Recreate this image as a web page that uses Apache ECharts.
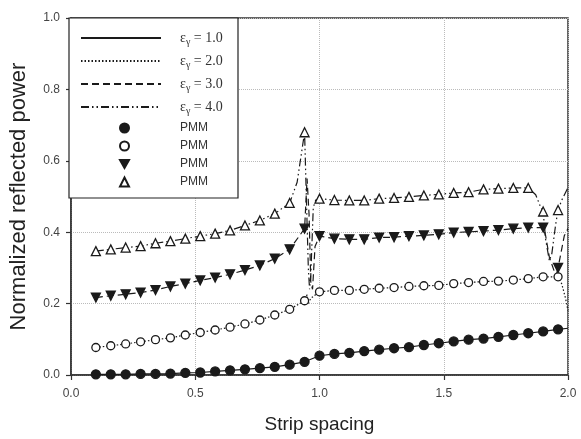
<!DOCTYPE html>
<html>
<head>
<meta charset="utf-8">
<script src="https://cdn.jsdelivr.net/npm/echarts@6/dist/echarts.min.js"></script>
<style>
  html, body { margin: 0; padding: 0; background: #fff; }
  #chart { width: 581px; height: 439px; }
</style>
</head>
<body>
<div id="chart"></div>
<script>
// strip spacing where PMM points were computed
const xPMM = [0.10, 0.16, 0.22, 0.28, 0.34, 0.40, 0.46, 0.52, 0.58, 0.64, 0.70, 0.76, 0.82, 0.88, 0.94, 1.00,
  1.06, 1.12, 1.18, 1.24, 1.30, 1.36, 1.42, 1.48, 1.54, 1.60, 1.66, 1.72, 1.78, 1.84, 1.90, 1.96]

// PMM results
const pmm1 = [0.002, 0.002, 0.002, 0.003, 0.003, 0.004, 0.006, 0.007, 0.010, 0.013, 0.016, 0.019, 0.023, 0.029, 0.037, 0.054,
  0.059, 0.062, 0.067, 0.071, 0.075, 0.078, 0.084, 0.089, 0.094, 0.099, 0.102, 0.107, 0.112, 0.117, 0.122, 0.128]
const pmm2 = [0.077, 0.082, 0.087, 0.093, 0.099, 0.104, 0.112, 0.119, 0.126, 0.134, 0.143, 0.154, 0.168, 0.184, 0.208, 0.233,
  0.237, 0.237, 0.240, 0.243, 0.245, 0.248, 0.250, 0.251, 0.256, 0.259, 0.262, 0.263, 0.266, 0.270, 0.275, 0.275]
const pmm3 = [0.217, 0.222, 0.226, 0.231, 0.238, 0.248, 0.256, 0.265, 0.273, 0.282, 0.294, 0.307, 0.326, 0.352, 0.410, 0.389,
  0.382, 0.380, 0.380, 0.385, 0.386, 0.389, 0.391, 0.394, 0.399, 0.401, 0.403, 0.406, 0.410, 0.413, 0.413, 0.300]
const pmm4 = [0.347, 0.352, 0.357, 0.361, 0.369, 0.375, 0.382, 0.389, 0.396, 0.405, 0.419, 0.433, 0.452, 0.482, 0.680, 0.494,
  0.490, 0.489, 0.489, 0.494, 0.496, 0.499, 0.503, 0.506, 0.510, 0.512, 0.520, 0.522, 0.524, 0.524, 0.458, 0.462]

// extra points of the theory curves (resonances, ends)
const extra1 = [[2.0, 0.131]]
const extra2 = [[0.95, 0.225], [0.955, 0.20], [0.965, 0.215], [1.975, 0.255], [1.99, 0.215], [2.0, 0.18]]
const extra3 = [[0.95, 0.55], [0.958, 0.45], [0.965, 0.26], [0.972, 0.24], [0.982, 0.36],
  [1.91, 0.39], [1.925, 0.33], [1.945, 0.29], [1.955, 0.285], [1.985, 0.39], [2.0, 0.41]]
const extra4 = [[0.91, 0.54], [0.945, 0.55], [0.955, 0.30], [0.96, 0.24], [0.965, 0.28], [0.975, 0.47], [0.985, 0.49],
  [1.87, 0.505], [1.89, 0.47], [1.91, 0.38], [1.925, 0.32], [1.935, 0.34], [1.95, 0.42], [1.975, 0.49], [2.0, 0.525]]

const epsLabels = ['1.0', '2.0', '3.0', '4.0']

const ink = '#1a1a1a'

function pairs(ys) {
  return xPMM.map((x, i) => [x, ys[i]])
}
function curve(ys, ext) {
  return pairs(ys).concat(ext).sort((a, b) => a[0] - b[0])
}

const lineTypes = ['solid', [1.5, 2], [7, 4], [8, 3, 1.5, 3, 1.5, 3]]
const curves = [curve(pmm1, extra1), curve(pmm2, extra2), curve(pmm3, extra3), curve(pmm4, extra4)]

const lineSeries = curves.map((d, i) => ({
  name: 'e' + (i + 1),
  type: 'line',
  data: d,
  symbol: 'none',
  z: 2,
  lineStyle: { color: ink, width: 1.2, type: lineTypes[i] },
  itemStyle: { color: ink }
}))

const markerStyles = [
  { symbol: 'circle', size: 9, rotate: 0, fill: ink },
  { symbol: 'circle', size: 8, rotate: 0, fill: '#fff' },
  { symbol: 'triangle', size: 9, rotate: 180, fill: ink },
  { symbol: 'triangle', size: 9, rotate: 0, fill: '#fff' }
]
const pmmSets = [pmm1, pmm2, pmm3, pmm4]

const scatterSeries = pmmSets.map((ys, i) => ({
  name: 'p' + (i + 1),
  type: 'scatter',
  data: pairs(ys),
  symbol: markerStyles[i].symbol,
  symbolSize: markerStyles[i].size,
  symbolRotate: markerStyles[i].rotate,
  z: 3,
  itemStyle: { color: markerStyles[i].fill, borderColor: ink, borderWidth: 1.3, opacity: 1 }
}))

const chart = echarts.init(document.getElementById('chart'))
chart.setOption({
  backgroundColor: '#fff',
  animation: false,
  grid: { left: 69, right: 13, top: 18, bottom: 63, show: true, borderColor: '#333', borderWidth: 1.5 },
  xAxis: {
    type: 'value',
    min: 0,
    max: 2,
    interval: 0.5,
    name: 'Strip spacing',
    nameLocation: 'middle',
    nameGap: 40,
    nameTextStyle: { fontFamily: 'Liberation Sans', fontSize: 19, color: '#222' },
    axisLine: { lineStyle: { color: '#333', width: 1.5 } },
    axisTick: { length: 5, lineStyle: { color: '#333', width: 1.2 } },
    axisLabel: { fontFamily: 'Liberation Sans', fontSize: 12, color: '#444', margin: 13, formatter: v => v.toFixed(1) },
    splitLine: { show: true, lineStyle: { color: '#bbb', type: 'dotted', width: 1 } }
  },
  yAxis: {
    type: 'value',
    min: 0,
    max: 1,
    interval: 0.2,
    name: 'Normalized reflected power',
    nameLocation: 'middle',
    nameGap: 41,
    nameTextStyle: { fontFamily: 'Liberation Sans', fontSize: 22, color: '#222' },
    axisLine: { lineStyle: { color: '#333', width: 1.5 } },
    axisTick: { length: 5, lineStyle: { color: '#333', width: 1.2 } },
    axisLabel: { fontFamily: 'Liberation Sans', fontSize: 12, color: '#444', margin: 11, formatter: v => v.toFixed(1) },
    splitLine: { show: true, lineStyle: { color: '#bbb', type: 'dotted', width: 1 } }
  },
  graphic: [{
    type: 'rect',
    z: 10,
    shape: { x: 69, y: 18, width: 169, height: 180 },
    style: { fill: '#fff', stroke: '#222', lineWidth: 1.2 }
  }],
  legend: [
    {
      data: ['e1', 'e2', 'e3', 'e4'],
      orient: 'vertical',
      left: 80,
      top: 29,
      padding: 0,
      itemWidth: 80,
      itemHeight: 10,
      itemGap: 5,
      z: 20,
      itemStyle: { opacity: 0 },
      formatter: name => '{a|ε}{b|γ}{a| = ' + epsLabels[+name.slice(1) - 1] + '}',
      textStyle: {
        padding: [0, 0, 0, 14],
        rich: {
          a: { fontFamily: 'Liberation Serif', fontSize: 14, color: '#333', lineHeight: 16 },
          b: { fontFamily: 'Liberation Serif', fontSize: 10, color: '#333', lineHeight: 10, padding: [8, 0, 0, 0] }
        }
      }
    },
    {
      data: ['p1', 'p2', { name: 'p3', icon: 'path://M0,0L10,0L5,9Z' }, 'p4'],
      orient: 'vertical',
      left: 119,
      top: 121,
      padding: 0,
      itemWidth: 9,
      itemHeight: 9,
      itemGap: 4,
      z: 20,
      formatter: () => 'PMM',
      textStyle: { fontFamily: 'Liberation Sans', fontSize: 12, color: '#333', lineHeight: 14, padding: [0, 0, 0, 46] }
    }
  ],
  series: lineSeries.concat(scatterSeries)
})
</script>
</body>
</html>
